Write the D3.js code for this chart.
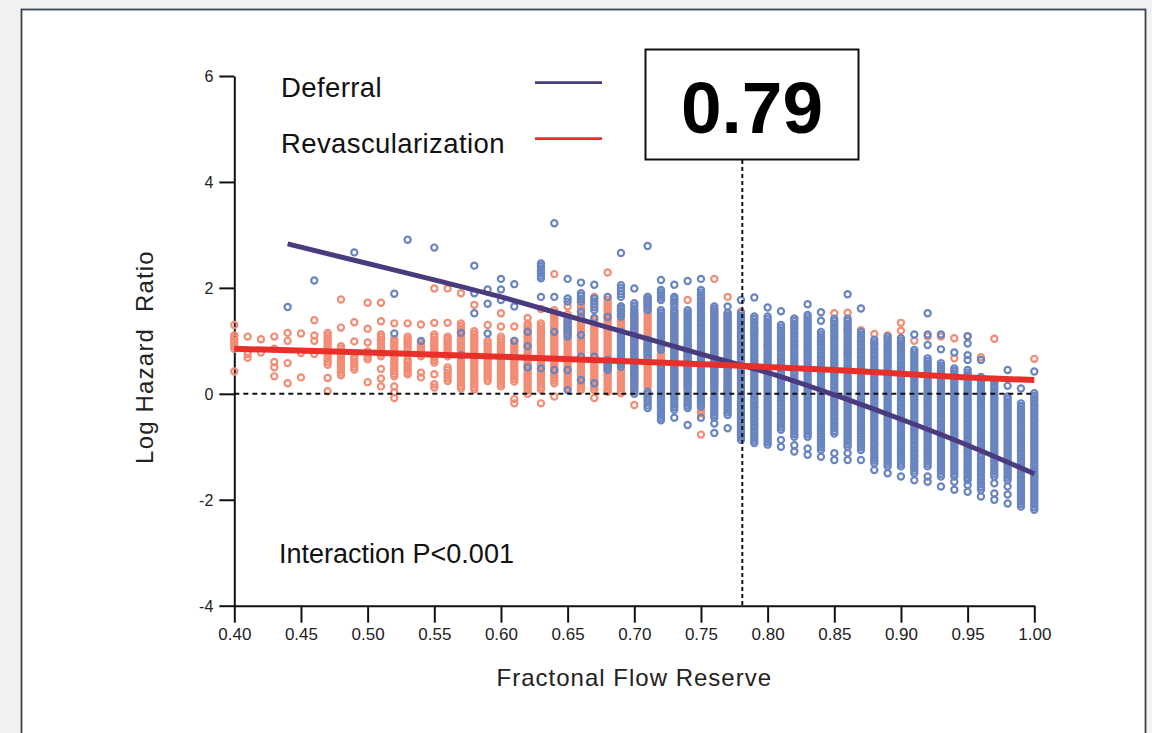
<!DOCTYPE html>
<html>
<head>
<meta charset="utf-8">
<script src="https://cdn.jsdelivr.net/npm/d3@7"></script>
<style>
  html, body { margin: 0; padding: 0; background: #f2f2f2; }
  svg { display: block; font-family: "Liberation Sans", Arial, sans-serif; }
</style>
</head>
<body>
<div id="chart"></div>
<script>
// axis ticks
const ffrTicks = [0.40, 0.45, 0.50, 0.55, 0.60, 0.65, 0.70, 0.75, 0.80, 0.85, 0.90, 0.95, 1.00];
const lhrTicks = [-4, -2, 0, 2, 4, 6];

// fitted curves
const deferralFitX = [0.44, 0.50, 0.55, 0.60, 0.65, 0.70, 0.75, 0.78, 0.80, 0.85, 0.90, 0.95, 1.00];
const deferralFitY = [2.83, 2.46, 2.15, 1.83, 1.47, 1.11, 0.75, 0.54, 0.40, -0.02, -0.48, -0.97, -1.51];
const revascFitX = [0.40, 0.50, 0.60, 0.70, 0.78, 0.85, 0.90, 0.95, 1.00];
const revascFitY = [0.85, 0.78, 0.70, 0.61, 0.53, 0.45, 0.38, 0.31, 0.26];

// cut-off where the two curves cross
const crossFFR = 0.781;
const crossLabel = "0.79";

// revascularization patients: single points per FFR column
const revascSingles = [
  [0.40, [1.30, 0.42]], [0.41, [1.08, 0.75, 0.68]], [0.42, [1.03, 0.78]],
  [0.43, [1.08, 0.85, 0.60, 0.50, 0.33]], [0.44, [1.15, 1.00, 0.58, 0.20]],
  [0.45, [1.14, 0.77, 0.31]], [0.46, [1.39, 1.10, 1.00, 0.75]], [0.47, [0.30, 0.05]],
  [0.48, [1.78, 1.25]], [0.49, [1.35, 0.99]], [0.50, [1.72, 1.23, 0.97, 0.22]],
  [0.51, [1.72, 1.37, 0.47, 0.29, 0.14]], [0.52, [1.33, 0.14, 0.03, -0.08]],
  [0.53, [1.33]], [0.54, [1.31, 0.40, 0.31]], [0.55, [1.99, 1.34, 0.37, 0.18, 0.12]],
  [0.56, [1.99, 1.34]], [0.57, [1.90]], [0.58, [1.68]], [0.59, [1.30]],
  [0.60, [1.52, 1.27]], [0.61, [1.27, -0.10, -0.18]], [0.62, [1.43, 0.00]],
  [0.63, [1.60, -0.18]], [0.64, [2.26, -0.05]], [0.65, [1.65]], [0.67, [1.83, -0.08]],
  [0.68, [2.29, 0.04]], [0.70, [-0.21]], [0.72, [-0.21, -0.37]], [0.74, [1.77]],
  [0.75, [-0.77]], [0.76, [2.17]], [0.77, [1.83]], [0.78, [1.55, 0.30]],
  [0.79, [1.20, -0.25]], [0.80, [0.90]], [0.82, [1.42]], [0.84, [0.95]], [0.85, [1.52]],
  [0.86, [1.53, 1.20, 0.76]], [0.87, [1.20]], [0.88, [1.13]], [0.89, [1.10]],
  [0.90, [1.34, 1.19]], [0.91, [1.00]], [0.92, [1.08]], [0.93, [1.08]],
  [0.94, [1.05, 0.67]], [0.95, [1.08]], [0.96, [0.69]], [0.97, [1.04]], [1.00, [0.66]]
];

// revascularization patients: dense stacked ranges [ffr, low, high]
const revascRuns = [
  [0.40, 0.85, 1.10], [0.47, 0.55, 1.15], [0.48, 0.35, 0.90], [0.49, 0.46, 0.71],
  [0.50, 0.65, 0.80], [0.51, 0.71, 1.12], [0.52, 0.33, 1.03], [0.53, 0.84, 1.08],
  [0.53, 0.37, 0.65], [0.54, 0.71, 0.97], [0.55, 0.59, 1.12], [0.56, 0.71, 1.08],
  [0.56, 0.24, 0.50], [0.57, 0.10, 1.33], [0.58, 0.08, 1.18], [0.59, 0.24, 1.00],
  [0.60, 0.14, 1.08], [0.61, 0.23, 1.00], [0.62, 0.07, 1.33], [0.63, 0.08, 1.33],
  [0.64, 0.20, 1.58], [0.65, 0.10, 1.50], [0.66, 0.07, 1.77], [0.67, 0.07, 1.39],
  [0.68, 0.07, 1.77], [0.69, 0.01, 1.65], [0.70, 0.10, 1.50], [0.71, 0.13, 1.83],
  [0.72, 0.51, 1.39], [0.73, 0.01, 1.58], [0.74, 0.14, 0.89], [0.75, -0.37, 0.60],
  [0.76, 0.14, 1.58], [0.77, 0.01, 1.52]
];

// deferral patients: single points per FFR column
const deferralSingles = [
  [0.44, [1.64]], [0.46, [2.14]], [0.49, [2.67]], [0.52, [1.89, 1.14]], [0.53, [2.91]],
  [0.54, [1.00]], [0.55, [2.76]], [0.57, [1.15, 0.73]], [0.58, [2.42, 1.90, 1.52]],
  [0.59, [1.97, 1.70, 1.14]], [0.60, [2.17, 1.97, 1.77]], [0.61, [2.07, 1.65, 1.00]],
  [0.62, [1.17, 0.90, 0.50]], [0.63, [1.83, 0.48]], [0.64, [3.22, 1.83, 1.17, 0.45]],
  [0.65, [2.17, 1.80, 1.74, 0.45, 0.07]], [0.66, [2.10, 1.55, 1.45, 1.11, 0.70, 0.26]],
  [0.67, [2.06, 1.43, 0.70, 0.20]], [0.68, [1.83, 1.45]], [0.69, [2.66]], [0.70, [1.99]],
  [0.71, [2.79]], [0.72, [2.15]], [0.73, [2.06, -0.45]], [0.74, [2.13, -0.59]],
  [0.75, [2.17, -0.45]], [0.76, [-0.56, -0.74]], [0.77, [1.65, -0.65]], [0.78, [1.77]],
  [0.79, [1.82]], [0.80, [1.63]], [0.81, [1.56, -0.87, -1.00]], [0.82, [-0.97, -1.09]],
  [0.83, [1.69, -1.03, -1.15]], [0.84, [1.54, 1.38, -1.19]], [0.85, [-1.12, -1.25]],
  [0.86, [1.88, -1.12, -1.25]], [0.87, [1.61, -1.25]], [0.88, [-1.44]], [0.89, [-1.50]],
  [0.90, [-1.56]], [0.91, [1.12, -1.63]], [0.92, [1.52, 1.12, 0.92, -1.56, -1.66]],
  [0.93, [1.12, 0.84, -1.75]], [0.94, [0.78, -1.66, -1.81]],
  [0.95, [1.09, 0.95, 0.73, 0.64, -1.72, -1.85]], [0.96, [0.64, -1.94]],
  [0.97, [-1.69, -1.88, -2.00]], [0.98, [0.45, 0.15, -1.75, -1.90, -2.07]],
  [0.99, [0.10]], [1.00, [0.42]]
];

// deferral patients: dense stacked ranges [ffr, low, high]
const deferralRuns = [
  [0.63, 2.18, 2.46], [0.65, 1.08, 1.39], [0.66, 1.74, 1.90], [0.67, 1.58, 1.80],
  [0.68, 0.45, 0.64], [0.69, 1.83, 2.05], [0.69, 1.46, 1.65], [0.69, 0.51, 1.17],
  [0.70, 1.17, 1.71], [0.70, 0.00, 1.10], [0.71, 1.58, 1.83], [0.71, 0.70, 1.02],
  [0.71, -0.27, 0.04], [0.72, 1.77, 1.96], [0.72, 0.83, 1.58], [0.72, -0.50, 0.51],
  [0.73, 1.65, 1.83], [0.73, -0.30, 1.58], [0.74, -0.27, 1.58], [0.75, -0.24, 1.96],
  [0.76, -0.45, 1.65], [0.77, -0.40, 1.52], [0.78, -0.87, 1.52], [0.79, -0.93, 1.46],
  [0.80, -0.96, 1.46], [0.81, -0.68, 1.30], [0.82, -0.81, 1.42], [0.83, -0.81, 1.49],
  [0.84, -1.06, 1.17], [0.85, -0.75, 1.42], [0.86, -1.00, 1.42], [0.87, -1.06, 1.17],
  [0.88, -1.31, 1.02], [0.89, -1.37, 1.08], [0.90, -1.37, 1.05], [0.91, -1.50, 0.83],
  [0.92, -1.37, 0.67], [0.93, -1.56, 0.58], [0.94, -1.56, 0.48], [0.95, -1.63, 0.45],
  [0.96, -1.06, 0.32], [0.96, -1.81, -1.15], [0.97, -1.56, 0.26], [0.98, -1.63, -0.05],
  [0.99, -2.13, -0.18], [1.00, -2.19, 0.01]
];

const W = 1152, H = 733;
const blue = "#6884c1", orange = "#f28c74", purple = "#4a3b7f", red = "#e8302b";

const svg = d3.select("#chart").append("svg")
    .attr("width", W)
    .attr("height", H);

// page + white panel
svg.append("rect").attr("width", W).attr("height", H).attr("fill", "#f2f2f2");
svg.append("rect")
    .attr("x", 21.5).attr("y", 9.5)
    .attr("width", 1124).attr("height", 740)
    .attr("fill", "#fff")
    .attr("stroke", "#3a4352")
    .attr("stroke-width", 1.8);

const x = d3.scaleLinear().domain([0.40, 1.00]).range([234.3, 1034.3]);
const y = d3.scaleLinear().domain([-4, 6]).range([605.7, 76]);

// turn the columns into point lists (ranges are stacked every ~2.6px)
function expand(singles, runs) {
    const pts = [];
    singles.forEach(([f, vals]) => vals.forEach(v => pts.push([f, v])));
    runs.forEach(([f, lo, hi]) => {
        const n = Math.max(1, Math.round((y(lo) - y(hi)) / 2.6));
        for (let i = 0; i <= n; i++) pts.push([f, lo + (hi - lo) * i / n]);
    });
    return pts;
}
const revascPts = expand(revascSingles, revascRuns);
const deferralPts = expand(deferralSingles, deferralRuns);

const plot = svg.append("g");

// axes
const xAxis = plot.append("g")
    .attr("transform", `translate(0,${y(-4)})`)
    .call(d3.axisBottom(x).tickValues(ffrTicks).tickFormat(d3.format(".2f")).tickSize(17).tickSizeOuter(0).tickPadding(5));
const yAxis = plot.append("g")
    .attr("transform", `translate(${x(0.40)},0)`)
    .call(d3.axisLeft(y).tickValues(lhrTicks).tickFormat(d => String(d)).tickSize(15).tickSizeOuter(0).tickPadding(6));

[xAxis, yAxis].forEach(a => {
    a.select(".domain").attr("stroke", "#111").attr("stroke-width", 2);
    a.selectAll(".tick line").attr("stroke", "#111").attr("stroke-width", 2);
    a.selectAll(".tick text").attr("fill", "#222").style("font-family", "'Liberation Sans', Arial, sans-serif");
});
xAxis.selectAll(".tick text").style("font-size", "17px");
yAxis.selectAll(".tick text").style("font-size", "16px").attr("dy", "0.36em");

// scatter: revascularization underneath, deferral on top
function dots(pts, color) {
    plot.append("g").selectAll("circle")
        .data(pts)
        .enter().append("circle")
        .attr("cx", d => x(d[0]))
        .attr("cy", d => y(d[1]))
        .attr("r", 3.1)
        .attr("fill", "none")
        .attr("stroke", color)
        .attr("stroke-width", 2.2);
}
dots(revascPts, orange);
dots(deferralPts, blue);

// reference lines
plot.append("line")
    .attr("x1", x(0.40)).attr("x2", x(1.00))
    .attr("y1", y(0)).attr("y2", y(0))
    .attr("stroke", "#111").attr("stroke-width", 2)
    .attr("stroke-dasharray", "5,4");
plot.append("line")
    .attr("x1", x(crossFFR)).attr("x2", x(crossFFR))
    .attr("y1", 160).attr("y2", y(-4))
    .attr("stroke", "#111").attr("stroke-width", 2)
    .attr("stroke-dasharray", "4,3");

// fitted curves
const line = d3.line().x(d => x(d[0])).y(d => y(d[1])).curve(d3.curveMonotoneX);
plot.append("path")
    .attr("d", line(d3.zip(deferralFitX, deferralFitY)))
    .attr("fill", "none").attr("stroke", purple).attr("stroke-width", 5)
    .attr("stroke-linecap", "butt");
plot.append("path")
    .attr("d", line(d3.zip(revascFitX, revascFitY)))
    .attr("fill", "none").attr("stroke", red).attr("stroke-width", 6)
    .attr("stroke-linecap", "butt");

// legend
const legend = [["Deferral", purple, 96.5, 82.7], ["Revascularization", red, 153, 138.7]];
legend.forEach(([label, color, ty, ly]) => {
    svg.append("text")
        .attr("x", 281).attr("y", ty)
        .style("font-size", "27.5px").style("letter-spacing", "0.4px")
        .attr("fill", "#111")
        .text(label);
    svg.append("line")
        .attr("x1", 535).attr("x2", 602)
        .attr("y1", ly).attr("y2", ly)
        .attr("stroke", color).attr("stroke-width", 2.8);
});

// cut-off box
svg.append("rect")
    .attr("x", 645.5).attr("y", 49.5)
    .attr("width", 213).attr("height", 110)
    .attr("fill", "#fff").attr("stroke", "#111").attr("stroke-width", 2);
svg.append("text")
    .attr("x", 752).attr("y", 133)
    .attr("text-anchor", "middle")
    .style("font-size", "73px").style("font-weight", "bold")
    .attr("fill", "#000")
    .text(crossLabel);

// annotation
svg.append("text")
    .attr("x", 279).attr("y", 563)
    .style("font-size", "27px")
    .attr("fill", "#111")
    .text("Interaction P<0.001");

// axis titles
svg.append("text")
    .attr("x", x(0.70)).attr("y", 686)
    .attr("text-anchor", "middle")
    .style("font-size", "24px").style("letter-spacing", "1px")
    .attr("fill", "#222")
    .text("Fractonal Flow Reserve");
svg.append("text")
    .attr("transform", "translate(153,357) rotate(-90)")
    .attr("text-anchor", "middle")
    .style("font-size", "24px").style("letter-spacing", "1.2px")
    .style("white-space", "pre")
    .attr("fill", "#222")
    .text("Log Hazard  Ratio");
</script>
</body>
</html>
